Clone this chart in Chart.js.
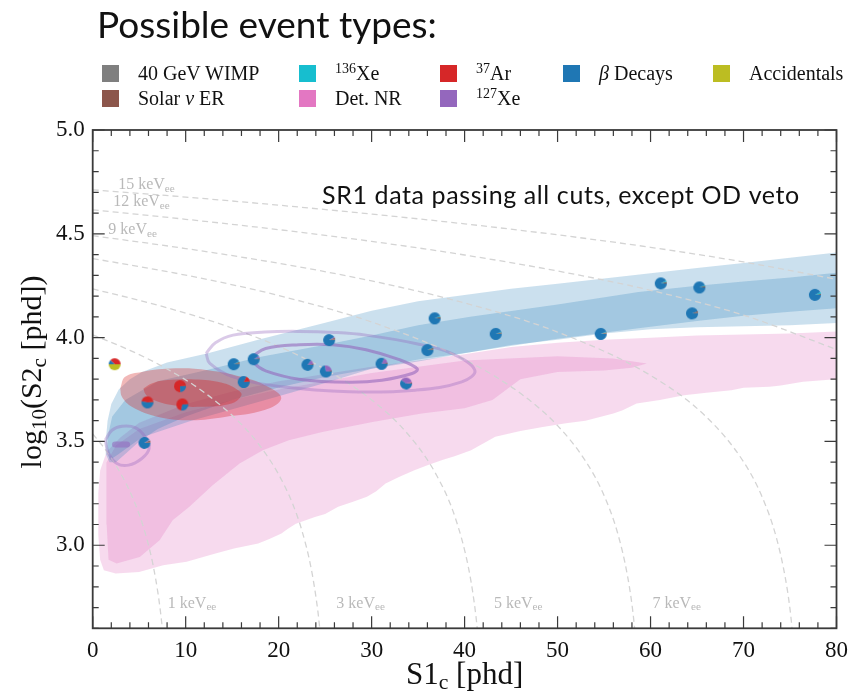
<!DOCTYPE html>
<html>
<head>
<meta charset="utf-8">
<script src="https://cdn.jsdelivr.net/npm/chart.js@4.4.0/dist/chart.umd.min.js"></script>
<style>
    html, body { margin: 0; padding: 0; background: #fff; }
    #wrap { position: relative; width: 857px; height: 693px; }
    #chart { position: absolute; left: 0; top: 0; }
    .title { position: absolute; left: 97px; top: 5px; font-family: Lato, sans-serif; font-size: 37px; line-height: 37px; color: #111; white-space: nowrap; }
    .leg { position: absolute; font-family: "Liberation Serif", serif; font-size: 20px; line-height: 20px; color: #111; white-space: nowrap; }
    .leg sup { font-size: 0.7em; vertical-align: 0.5em; line-height: 0; }
    .sw { position: absolute; width: 17px; height: 17px; }
</style>
</head>
<body>
<div id="wrap">
    <canvas id="chart" width="857" height="693"></canvas>
    <div class="title">Possible event types:</div>
    <div id="legend"></div>
</div>
<script>
// ---------- axis ticks ----------
const xTicks = [0, 10, 20, 30, 40, 50, 60, 70, 80];
const yTicks = [3.0, 3.5, 4.0, 4.5, 5.0];

// ---------- event types (legend / pie slice order) ----------
const typeNames = ['40 GeV WIMP', 'Solar <i>&nu;</i> ER', '<sup>136</sup>Xe', 'Det. NR', '<sup>37</sup>Ar', '<sup>127</sup>Xe', '<i>&beta;</i> Decays', 'Accidentals'];
const typeColors = ['#7f7f7f', '#8c564b', '#17becf', '#e377c2', '#d62728', '#9467bd', '#1f77b4', '#bcbd22'];

// ---------- SR1 events (S1c, log10 S2c) ----------
const evS1 = [2.36, 5.89, 9.39, 9.64, 5.57, 15.17, 17.32, 16.24, 25.43, 23.1, 25.07, 31.07, 33.71, 36.0, 36.78, 43.35, 54.64, 61.1, 65.25, 64.46, 77.68];
const evLogS2 = [3.872, 3.688, 3.766, 3.678, 3.493, 3.872, 3.896, 3.786, 3.988, 3.869, 3.837, 3.874, 3.779, 3.940, 4.093, 4.018, 4.018, 4.261, 4.242, 4.117, 4.206];

// per-event fraction of each type (pie markers)
const fracWimp  = [0, 0, 0, 0, .03, .02, 0, 0, .02, 0, 0, 0, 0, .02, 0, .02, .02, 0, 0, .02, 0];
const fracSolar = [0, .02, .02, .02, .04, .04, .03, .03, .04, .03, .03, .03, .03, .04, .04, .03, .03, .04, .04, .04, .03];
const fracXe136 = [0, 0, 0, 0, .01, .02, .01, 0, 0, 0, 0, 0, 0, .02, .03, .02, .02, .04, .03, 0, .05];
const fracNR    = [0, 0, 0, 0, .02, 0, 0, 0, 0, 0, 0, 0, .02, 0, 0, 0, 0, 0, 0, 0, 0];
const fracAr37  = [.38, .45, .74, .70, 0, 0, 0, .15, 0, 0, 0, 0, 0, 0, 0, 0, 0, 0, 0, 0, 0];
const fracXe127 = [0, 0, 0, 0, 0, 0, .05, 0, .03, .12, .25, .15, .35, 0, 0, 0, 0, 0, 0, 0, 0];
const fracBeta  = [.12, .53, .24, .28, .90, .92, .91, .82, .91, .85, .72, .82, .60, .92, .93, .93, .93, .92, .93, .94, .92];
const fracAcc   = [.50, 0, 0, 0, 0, 0, 0, 0, 0, 0, 0, 0, 0, 0, 0, 0, 0, 0, 0, 0, 0];

// ---------- beta (ER) band ----------
const betaOuter = [[1.4,3.50],[1.6,3.60],[2.0,3.68],[2.8,3.75],[4.0,3.80],[5.3,3.835],[8,3.88],[12.4,3.925],[17.8,3.99],[24.9,4.07],[30,4.13],[35,4.175],[40,4.205],[45,4.235],[50,4.26],[55,4.285],[60,4.31],[65,4.335],[70,4.36],[75,4.385],[80,4.41],
    [80,4.07],[75,4.06],[70,4.055],[65,4.05],[60,4.04],[55,4.02],[50,3.99],[45,3.965],[40,3.925],[35,3.885],[30,3.85],[25,3.81],[20,3.76],[15,3.70],[10,3.62],[7,3.56],[5,3.50],[3.5,3.44],[2.5,3.40],[1.8,3.40],[1.4,3.44],[1.4,3.50]];
const betaInner = [[1.6,3.52],[2.1,3.62],[3.5,3.70],[7,3.79],[12.4,3.845],[17.8,3.905],[24.9,3.965],[30,4.01],[35,4.06],[40.6,4.10],[50,4.16],[58.7,4.22],[65,4.25],[70,4.27],[75,4.29],[80,4.312],
    [80,4.141],[75,4.125],[70,4.105],[65,4.08],[58.7,4.045],[50,3.995],[40.6,3.93],[35,3.895],[30,3.85],[24.9,3.78],[17.8,3.69],[10.6,3.60],[5.3,3.52],[2.8,3.44],[1.85,3.41],[1.6,3.45],[1.6,3.52]];

// ---------- Det. NR band ----------
const nrOuter = [[0.6,3.25],[0.8,3.36],[1.5,3.45],[3,3.52],[5,3.59],[10,3.68],[15,3.74],[20,3.79],[30,3.86],[40,3.92],[45,3.955],[50,3.975],[55,3.99],[60,4.0],[65,4.01],[70,4.015],[75,4.02],[80,4.03],
    [80,3.80],[79.9,3.799],[76.4,3.787],[74,3.77],[72.8,3.763],[70,3.758],[68.7,3.747],[66,3.735],[63.6,3.723],[61,3.70],[58.5,3.683],[57,3.65],[56,3.635],[53,3.60],[50.9,3.587],[48.4,3.57],[46,3.55],[43.3,3.522],[42,3.49],[40.7,3.458],[39,3.43],[37.6,3.41],[36,3.385],[34.6,3.361],[33,3.33],[31.5,3.297],[30.5,3.26],[29.5,3.233],[28,3.21],[26.4,3.185],[25,3.15],[23.9,3.136],[21.85,3.104],[21,3.08],[20.3,3.056],[19,3.03],[17.8,3.008],[15.2,2.984],[13.2,2.96],[10.1,2.92],[7.57,2.904],[5.0,2.871],[2.47,2.864],[1.2,2.88],[0.8,2.93],[0.6,3.05],[0.6,3.25]];
const nrInner = [[1.5,3.40],[2.5,3.48],[5,3.56],[10,3.64],[15,3.70],[20,3.75],[30,3.83],[40,3.89],[50,3.91],[56,3.90],[59.6,3.875],[58,3.855],[55,3.842],
    [50,3.835],[46,3.80],[43,3.70],[40,3.66],[35.4,3.635],[30.1,3.594],[24.7,3.546],[21.1,3.506],[18.3,3.458],[15.8,3.394],[12.9,3.289],[10.4,3.185],[8.6,3.12],[7.2,3.024],[5.07,2.944],[2.57,2.912],[1.7,2.93],[1.5,3.1],[1.45,3.3],[1.5,3.40]];

// ---------- 37Ar contours ----------
const arOuter = [[2.96,3.755],[3.49,3.811],[5.28,3.835],[8.85,3.852],[12.43,3.843],[16.0,3.811],[18.86,3.763],[20.28,3.707],[18.49,3.651],[14.2,3.618],[10.64,3.602],[7.07,3.618],[4.21,3.667],[3.14,3.715],[2.96,3.755]];
const arInner = [[5.46,3.755],[6.35,3.779],[7.78,3.795],[11.36,3.798],[14.2,3.779],[15.64,3.747],[16.0,3.723],[14.93,3.683],[11.71,3.667],[8.5,3.675],[6.17,3.707],[5.64,3.731],[5.46,3.755]];

// ---------- 127Xe contours ----------
const xeOuter = [[12.2,3.924],[13.2,3.975],[15.1,4.012],[18.5,4.027],[22.2,4.03],[26,4.025],[29.4,4.012],[34.7,3.972],[38.6,3.924],[41.1,3.843],[39.7,3.787],[34.7,3.747],[27.6,3.739],[20.4,3.763],[15.1,3.811],[12.6,3.876],[12.2,3.924]];
const xeInner = [[17.2,3.91],[18.6,3.948],[22.2,3.966],[25.8,3.966],[29.4,3.942],[32.9,3.895],[34.9,3.85],[34.35,3.827],[31.1,3.795],[27.6,3.785],[22.2,3.80],[18.6,3.84],[17.4,3.876],[17.2,3.91]];
const xeSmall = [[1.35,3.506],[2.07,3.554],[3.14,3.573],[4.57,3.567],[5.64,3.522],[6.07,3.466],[5.28,3.418],[3.86,3.386],[2.6,3.394],[1.71,3.442],[1.35,3.506]];
const xeDash = [[2.4,3.485],[3.7,3.485]];

// ---------- constant-energy contours (keVee) ----------
const keV1 = [[0,3.536],[1,3.482],[2,3.419],[3,3.346],[4,3.259],[5,3.149],[5.5,3.081],[6,3.001],[6.5,2.903],[7,2.775],[7.3,2.676],[7.5,2.594],[7.7,2.494]];
const keV3 = [[0,4.013],[4,3.939],[8,3.849],[12,3.736],[16,3.582],[18,3.478],[20,3.341],[21.5,3.200],[22.5,3.071],[23.5,2.888],[24.2,2.689],[24.5,2.565]];
const keV5 = [[0,4.235],[8,4.144],[16,4.029],[24,3.872],[30,3.700],[34,3.530],[37,3.336],[39,3.132],[40.5,2.873],[41.2,2.666],[41.5,2.533]];
const keV7 = [[0,4.381],[10,4.301],[20,4.203],[30,4.075],[40,3.894],[46,3.732],[50,3.576],[53,3.406],[55,3.240],[56.5,3.052],[57.5,2.858],[58.1,2.679],[58.5,2.498]];
const keV9 = [[0,4.491],[10,4.429],[20,4.358],[30,4.273],[40,4.167],[50,4.027],[60,3.818],[66,3.618],[70,3.402],[72,3.233],[73.5,3.042],[74.5,2.842],[75,2.692],[75.4,2.519]];
const keV12 = [[0,4.6155],[10,4.570],[20,4.520],[30,4.4635],[40,4.398],[50,4.321],[60,4.228],[70,4.108],[80,3.943]];
const keV15 = [[0,4.712],[10,4.677],[20,4.638],[30,4.595],[40,4.548],[50,4.495],[60,4.435],[70,4.3645],[80,4.281]];
const keVNames = ['1', '3', '5', '7', '15', '12', '9'];

// ---------- legend (HTML) ----------
const legCols = [102, 299, 440, 563, 713];
const legRows = [73, 98];
const legendEl = document.getElementById('legend');
typeNames.forEach((name, i) => {
    let c, r;
    if (i < 6) { c = Math.floor(i / 2); r = i % 2; } else { c = i - 3; r = 0; }
    const sw = document.createElement('div');
    sw.className = 'sw';
    sw.style.left = legCols[c] + 'px';
    sw.style.top = (legRows[r] - 8.5) + 'px';
    sw.style.background = typeColors[i];
    legendEl.appendChild(sw);
    const t = document.createElement('div');
    t.className = 'leg';
    t.style.left = (legCols[c] + 36) + 'px';
    t.style.top = (legRows[r] - 10) + 'px';
    t.innerHTML = name;
    legendEl.appendChild(t);
});

// ---------- pie markers ----------
const pieR = 6;
const fracs = [fracWimp, fracSolar, fracXe136, fracNR, fracAr37, fracXe127, fracBeta, fracAcc];
const pies = evS1.map((_, k) => {
    const c = document.createElement('canvas');
    c.width = c.height = 2 * pieR + 2;
    const g = c.getContext('2d');
    let a = 0;
    fracs.forEach((arr, i) => {
        const f = arr[k];
        if (!f) return;
        const a2 = a - f * 2 * Math.PI;
        g.beginPath();
        g.moveTo(pieR + 1, pieR + 1);
        g.arc(pieR + 1, pieR + 1, pieR, a, a2, true);
        g.closePath();
        g.fillStyle = typeColors[i];
        g.fill();
        a = a2;
    });
    return c;
});

const toXY = pts => pts.map(p => ({ x: p[0], y: p[1] }));

function area(pts, color, order, tension) {
    return { data: toXY(pts), backgroundColor: color, borderWidth: 0, pointRadius: 0, fill: 'shape', tension: tension || 0, order: order };
}
function contour(pts, color, width, order) {
    return { data: toXY(pts), borderColor: color, borderWidth: width, pointRadius: 0, fill: false, tension: 0.4, order: order };
}
function energyLine(pts) {
    return { data: toXY(pts), borderColor: '#d4d4d4', borderWidth: 1.3, borderDash: [6, 4], pointRadius: 0, fill: false, cubicInterpolationMode: 'monotone', order: 3 };
}

const serif = '"Liberation Serif", "Times New Roman", serif';

// draw text with subscripts, parts = [[text, isSub], ...]
function richWidth(ctx, parts, size) {
    let w = 0;
    parts.forEach(p => {
        ctx.font = (p[1] ? size * 0.7 : size) + 'px ' + serif;
        w += ctx.measureText(p[0]).width;
    });
    return w;
}
function drawRich(ctx, parts, x, y, size) {
    parts.forEach(p => {
        const s = p[1] ? size * 0.7 : size;
        ctx.font = s + 'px ' + serif;
        ctx.fillText(p[0], x, p[1] ? y + size * 0.25 : y);
        x += ctx.measureText(p[0]).width;
    });
}

// energy label anchors (data coords, left edge)
const keVLabelPos = [[8.07, 2.72], [26.2, 2.72], [43.15, 2.72], [60.2, 2.72], [2.74, 4.735], [2.2, 4.655], [1.68, 4.518]];

const decorations = {
    id: 'decorations',
    afterDatasetsDraw(chart) {
        const { ctx, chartArea: a, scales: { x, y } } = chart;
        ctx.save();
        // energy labels
        ctx.fillStyle = '#b9b9b9';
        ctx.textBaseline = 'middle';
        ctx.textAlign = 'left';
        keVNames.forEach((n, i) => {
            const px = x.getPixelForValue(keVLabelPos[i][0]);
            const py = y.getPixelForValue(keVLabelPos[i][1]);
            drawRich(ctx, [[n + ' keV', false], ['ee', true]], px, py, 16);
        });
        // annotation
        ctx.fillStyle = '#111';
        ctx.font = '25px Lato, sans-serif';
        ctx.letterSpacing = '0.6px';
        ctx.fillText('SR1 data passing all cuts, except OD veto', 322, 196);
        ctx.letterSpacing = '0px';

        // frame
        ctx.strokeStyle = '#3a3a3a';
        ctx.lineWidth = 1.8;
        ctx.strokeRect(a.left, a.top, a.right - a.left, a.bottom - a.top);

        // inward ticks on all four sides
        ctx.lineWidth = 1.2;
        ctx.beginPath();
        for (let v = 0; v <= 80; v += 2) {
            const px = x.getPixelForValue(v);
            const len = v % 10 === 0 ? 12 : 6;
            ctx.moveTo(px, a.bottom); ctx.lineTo(px, a.bottom - len);
            ctx.moveTo(px, a.top); ctx.lineTo(px, a.top + len);
        }
        for (let i = 26; i <= 50; i++) {
            const py = y.getPixelForValue(i / 10);
            const len = i % 5 === 0 ? 12 : 6;
            ctx.moveTo(a.left, py); ctx.lineTo(a.left + len, py);
            ctx.moveTo(a.right, py); ctx.lineTo(a.right - len, py);
        }
        ctx.stroke();

        // axis titles
        ctx.fillStyle = '#111';
        ctx.textBaseline = 'middle';
        const xt = [['S1', false], ['c', true], [' [phd]', false]];
        const xw = richWidth(ctx, xt, 31);
        drawRich(ctx, xt, (a.left + a.right) / 2 - xw / 2, 676, 31);

        const yt = [['log', false], ['10', true], ['(S2', false], ['c', true], [' [phd])', false]];
        const yw = richWidth(ctx, yt, 30);
        ctx.translate(33, 372);
        ctx.rotate(-Math.PI / 2);
        drawRich(ctx, yt, -yw / 2, 0, 30);
        ctx.restore();
    }
};

const chart = new Chart(document.getElementById('chart').getContext('2d'), {
    type: 'line',
    data: {
        datasets: [
            area(nrOuter, 'rgba(227,119,194,0.27)', 9),
            area(nrInner, 'rgba(227,119,194,0.27)', 8),
            area(betaOuter, 'rgba(31,119,180,0.23)', 7),
            area(betaInner, 'rgba(31,119,180,0.23)', 6),
            area(arOuter, 'rgba(214,39,40,0.33)', 5, 0.4),
            area(arInner, 'rgba(214,39,40,0.38)', 4, 0.4),
            energyLine(keV1), energyLine(keV3), energyLine(keV5), energyLine(keV7),
            energyLine(keV9), energyLine(keV12), energyLine(keV15),
            contour(xeOuter, 'rgba(148,103,189,0.35)', 3, 2),
            contour(xeInner, 'rgba(148,103,189,0.6)', 3, 2),
            contour(xeSmall, 'rgba(148,103,189,0.35)', 3, 2),
            { data: toXY(xeDash), borderColor: 'rgba(148,103,189,0.55)', borderWidth: 6, borderCapStyle: 'round', pointRadius: 0, fill: false, order: 2 },
            {
                data: evS1.map((v, i) => ({ x: v, y: evLogS2[i] })),
                showLine: false,
                pointRadius: pieR,
                pointStyle: c => pies[c.dataIndex] || 'circle',
                order: 0
            }
        ]
    },
    options: {
        responsive: false,
        devicePixelRatio: 1,
        animation: false,
        events: [],
        layout: { padding: { left: 0, right: 17.7, top: 130, bottom: 0 } },
        plugins: { legend: { display: false }, tooltip: { enabled: false } },
        scales: {
            x: {
                type: 'linear', min: 0, max: 80,
                afterBuildTicks: s => { s.ticks = xTicks.map(v => ({ value: v })); },
                afterFit: s => { s.height = 64.7; },
                ticks: { font: { family: serif, size: 23 }, color: '#111', padding: 9, maxRotation: 0 },
                grid: { display: false, drawTicks: false },
                border: { display: false }
            },
            y: {
                type: 'linear', min: 2.6, max: 5.0,
                afterBuildTicks: s => { s.ticks = yTicks.map(v => ({ value: v })); },
                afterFit: s => { s.width = 92.7; },
                ticks: { font: { family: serif, size: 23 }, color: '#111', padding: 8, callback: v => v.toFixed(1) },
                grid: { display: false, drawTicks: false },
                border: { display: false }
            }
        }
    },
    plugins: [decorations]
});
</script>
</body>
</html>
